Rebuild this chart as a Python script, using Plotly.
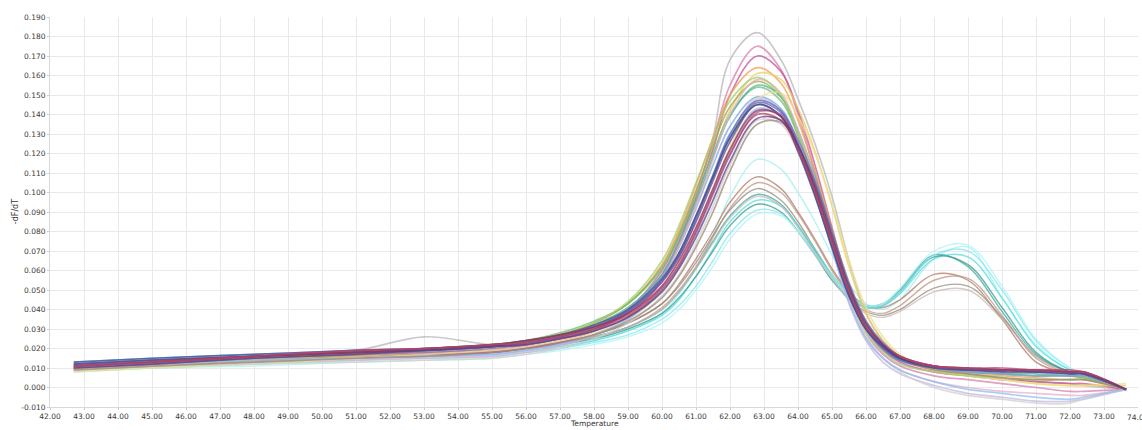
import plotly.graph_objects as go

# Temperature sampling points (deg C) shared by every well
temperature = [42.7, 45, 48, 51, 53, 55, 56, 57, 58, 59, 60, 60.5, 61, 61.5, 62,
               62.8, 63.5, 64, 64.5, 65, 65.5, 66, 66.5, 67, 68, 69, 70, 71, 72, 72.4, 73.65]

# Wells with a single melt peak near 62.8 C
single_peak_wells = [
    [0.012, 0.014, 0.016, 0.019, 0.026, 0.022, 0.023, 0.026, 0.031, 0.040, 0.060, 0.077, 0.098, 0.128, 0.168, 0.182, 0.168, 0.148, 0.125, 0.098, 0.065, 0.038, 0.024, 0.016, 0.010, 0.007, 0.005, 0.003, 0.002, 0.001, -0.001],
    [0.011, 0.013, 0.015, 0.017, 0.018, 0.019, 0.021, 0.024, 0.030, 0.040, 0.060, 0.078, 0.100, 0.126, 0.155, 0.175, 0.163, 0.140, 0.110, 0.078, 0.048, 0.028, 0.017, 0.011, 0.006, 0.004, 0.002, 0.000, -0.002, -0.002, -0.001],
    [0.010, 0.012, 0.014, 0.016, 0.017, 0.018, 0.020, 0.023, 0.029, 0.039, 0.058, 0.075, 0.097, 0.122, 0.150, 0.170, 0.162, 0.142, 0.114, 0.082, 0.051, 0.030, 0.019, 0.013, 0.008, 0.006, 0.004, 0.003, 0.002, 0.002, -0.001],
    [0.009, 0.011, 0.014, 0.017, 0.019, 0.021, 0.023, 0.027, 0.033, 0.043, 0.063, 0.081, 0.104, 0.128, 0.150, 0.164, 0.156, 0.137, 0.111, 0.081, 0.052, 0.031, 0.020, 0.014, 0.009, 0.007, 0.006, 0.005, 0.004, 0.004, -0.001],
    [0.009, 0.011, 0.013, 0.016, 0.018, 0.020, 0.022, 0.025, 0.030, 0.039, 0.057, 0.073, 0.094, 0.118, 0.142, 0.161, 0.158, 0.143, 0.121, 0.093, 0.062, 0.038, 0.024, 0.016, 0.009, 0.006, 0.004, 0.002, 0.001, 0.001, 0.001],
    [0.010, 0.012, 0.015, 0.018, 0.019, 0.021, 0.023, 0.027, 0.033, 0.043, 0.062, 0.079, 0.101, 0.124, 0.144, 0.157, 0.149, 0.130, 0.105, 0.077, 0.049, 0.030, 0.020, 0.014, 0.010, 0.008, 0.007, 0.006, 0.006, 0.005, -0.001],
    [0.011, 0.013, 0.016, 0.018, 0.020, 0.022, 0.024, 0.028, 0.034, 0.043, 0.061, 0.077, 0.098, 0.120, 0.140, 0.154, 0.147, 0.129, 0.105, 0.078, 0.050, 0.031, 0.021, 0.015, 0.010, 0.008, 0.007, 0.006, 0.006, 0.005, -0.001],
    [0.012, 0.014, 0.016, 0.018, 0.019, 0.021, 0.023, 0.026, 0.032, 0.041, 0.058, 0.074, 0.095, 0.118, 0.139, 0.155, 0.149, 0.132, 0.108, 0.080, 0.052, 0.032, 0.021, 0.015, 0.010, 0.008, 0.007, 0.007, 0.006, 0.006, -0.001],
    [0.013, 0.015, 0.017, 0.019, 0.020, 0.021, 0.023, 0.026, 0.031, 0.040, 0.057, 0.072, 0.092, 0.114, 0.134, 0.149, 0.143, 0.126, 0.103, 0.076, 0.049, 0.030, 0.020, 0.014, 0.010, 0.008, 0.007, 0.006, 0.006, 0.006, -0.001],
    [0.010, 0.012, 0.013, 0.015, 0.016, 0.017, 0.019, 0.022, 0.027, 0.035, 0.052, 0.066, 0.086, 0.108, 0.129, 0.148, 0.142, 0.123, 0.099, 0.071, 0.043, 0.024, 0.013, 0.007, 0.001, -0.003, -0.005, -0.007, -0.007, -0.006, -0.001],
    [0.010, 0.011, 0.013, 0.014, 0.015, 0.016, 0.018, 0.021, 0.027, 0.036, 0.055, 0.072, 0.093, 0.117, 0.140, 0.158, 0.151, 0.132, 0.106, 0.076, 0.046, 0.026, 0.015, 0.009, 0.003, 0.000, -0.002, -0.003, -0.004, -0.004, -0.001],
    [0.008, 0.010, 0.012, 0.015, 0.017, 0.019, 0.021, 0.024, 0.028, 0.035, 0.049, 0.062, 0.080, 0.101, 0.123, 0.148, 0.151, 0.139, 0.120, 0.094, 0.065, 0.041, 0.026, 0.017, 0.009, 0.006, 0.004, 0.002, 0.001, 0.001, 0.002],
    [0.010, 0.012, 0.014, 0.017, 0.019, 0.021, 0.023, 0.027, 0.033, 0.044, 0.065, 0.083, 0.105, 0.127, 0.147, 0.159, 0.150, 0.130, 0.104, 0.075, 0.047, 0.028, 0.018, 0.012, 0.008, 0.006, 0.005, 0.004, 0.004, 0.004, -0.001],
    [0.009, 0.011, 0.012, 0.013, 0.014, 0.015, 0.017, 0.020, 0.025, 0.033, 0.047, 0.058, 0.074, 0.093, 0.114, 0.137, 0.135, 0.121, 0.100, 0.074, 0.047, 0.027, 0.015, 0.008, 0.000, -0.004, -0.006, -0.008, -0.008, -0.006, -0.001],
    [0.011, 0.012, 0.014, 0.015, 0.016, 0.017, 0.019, 0.022, 0.027, 0.035, 0.050, 0.063, 0.081, 0.101, 0.122, 0.143, 0.139, 0.122, 0.099, 0.071, 0.044, 0.025, 0.015, 0.009, 0.003, -0.001, -0.003, -0.005, -0.006, -0.005, -0.001],
    [0.009, 0.011, 0.013, 0.015, 0.016, 0.018, 0.020, 0.023, 0.027, 0.034, 0.046, 0.057, 0.072, 0.090, 0.111, 0.135, 0.136, 0.124, 0.105, 0.080, 0.054, 0.034, 0.022, 0.015, 0.009, 0.007, 0.005, 0.004, 0.004, 0.004, -0.001],
    [0.012, 0.014, 0.016, 0.018, 0.019, 0.021, 0.023, 0.026, 0.031, 0.039, 0.055, 0.069, 0.088, 0.109, 0.130, 0.147, 0.142, 0.125, 0.102, 0.075, 0.048, 0.030, 0.020, 0.014, 0.010, 0.009, 0.008, 0.008, 0.007, 0.007, -0.001],
    [0.011, 0.013, 0.016, 0.018, 0.019, 0.021, 0.023, 0.026, 0.031, 0.039, 0.055, 0.068, 0.087, 0.108, 0.128, 0.146, 0.141, 0.124, 0.101, 0.074, 0.048, 0.030, 0.021, 0.015, 0.011, 0.009, 0.009, 0.008, 0.008, 0.007, -0.001],
    [0.012, 0.014, 0.016, 0.018, 0.019, 0.021, 0.022, 0.025, 0.030, 0.038, 0.054, 0.067, 0.085, 0.106, 0.126, 0.145, 0.139, 0.122, 0.099, 0.072, 0.047, 0.030, 0.021, 0.015, 0.011, 0.009, 0.009, 0.008, 0.008, 0.007, -0.001],
    [0.013, 0.015, 0.017, 0.019, 0.020, 0.022, 0.024, 0.027, 0.032, 0.040, 0.056, 0.069, 0.088, 0.108, 0.128, 0.145, 0.139, 0.121, 0.098, 0.072, 0.047, 0.030, 0.021, 0.015, 0.011, 0.010, 0.009, 0.009, 0.008, 0.008, -0.001],
    [0.010, 0.012, 0.015, 0.017, 0.018, 0.020, 0.022, 0.025, 0.029, 0.036, 0.050, 0.062, 0.079, 0.099, 0.119, 0.141, 0.140, 0.127, 0.106, 0.080, 0.053, 0.034, 0.023, 0.016, 0.011, 0.009, 0.009, 0.008, 0.008, 0.007, -0.001],
    [0.011, 0.013, 0.016, 0.018, 0.020, 0.022, 0.024, 0.027, 0.031, 0.038, 0.052, 0.065, 0.082, 0.102, 0.122, 0.142, 0.139, 0.124, 0.102, 0.076, 0.050, 0.032, 0.022, 0.016, 0.011, 0.010, 0.009, 0.009, 0.008, 0.008, -0.001],
    [0.011, 0.013, 0.016, 0.019, 0.020, 0.022, 0.023, 0.026, 0.030, 0.037, 0.051, 0.063, 0.080, 0.100, 0.120, 0.140, 0.137, 0.122, 0.100, 0.074, 0.049, 0.031, 0.022, 0.016, 0.011, 0.010, 0.010, 0.009, 0.009, 0.008, -0.001],
    [0.010, 0.012, 0.015, 0.017, 0.019, 0.021, 0.022, 0.025, 0.029, 0.036, 0.049, 0.061, 0.077, 0.096, 0.116, 0.138, 0.137, 0.124, 0.104, 0.078, 0.052, 0.033, 0.022, 0.015, 0.010, 0.009, 0.008, 0.008, 0.007, 0.007, -0.001],
]
single_peak_colors = [
    "#b8b8b8", "#d77fb0", "#c8509a", "#f0a050", "#e8d060", "#a8a840",
    "#6fbf70", "#4fb0a0", "#7fa8e0", "#c8b8e0", "#e8b0c8", "#f0e090",
    "#a0d070", "#d0d0d0", "#90c0f0", "#a08878", "#4a6fc0", "#7a5aa8",
    "#5a4a90", "#405090", "#8a6ab8", "#a03050", "#c04060", "#604080",
]

# Wells with a second, later melt peak near 68.3 C
double_peak_wells = [
    [0.009, 0.010, 0.012, 0.014, 0.015, 0.016, 0.018, 0.020, 0.024, 0.029, 0.038, 0.048, 0.061, 0.078, 0.098, 0.117, 0.112, 0.100, 0.085, 0.068, 0.053, 0.043, 0.040, 0.045, 0.066, 0.072, 0.046, 0.022, 0.009, 0.007, -0.001],
    [0.010, 0.012, 0.014, 0.016, 0.017, 0.019, 0.021, 0.023, 0.027, 0.033, 0.043, 0.053, 0.066, 0.080, 0.095, 0.108, 0.102, 0.090, 0.076, 0.061, 0.049, 0.042, 0.041, 0.045, 0.058, 0.055, 0.035, 0.013, 0.007, 0.006, -0.001],
    [0.010, 0.012, 0.014, 0.016, 0.017, 0.018, 0.020, 0.022, 0.026, 0.031, 0.041, 0.050, 0.062, 0.077, 0.092, 0.105, 0.100, 0.089, 0.075, 0.060, 0.048, 0.040, 0.038, 0.042, 0.055, 0.056, 0.037, 0.015, 0.007, 0.006, -0.001],
    [0.011, 0.013, 0.015, 0.017, 0.018, 0.019, 0.021, 0.023, 0.027, 0.033, 0.043, 0.052, 0.064, 0.078, 0.091, 0.102, 0.096, 0.085, 0.071, 0.057, 0.045, 0.039, 0.037, 0.040, 0.051, 0.052, 0.036, 0.016, 0.008, 0.007, -0.001],
    [0.010, 0.012, 0.014, 0.016, 0.017, 0.018, 0.020, 0.022, 0.026, 0.031, 0.040, 0.049, 0.061, 0.075, 0.088, 0.099, 0.094, 0.083, 0.070, 0.057, 0.047, 0.042, 0.043, 0.050, 0.068, 0.062, 0.039, 0.017, 0.008, 0.007, -0.001],
    [0.009, 0.011, 0.013, 0.015, 0.016, 0.017, 0.019, 0.021, 0.024, 0.029, 0.037, 0.045, 0.057, 0.071, 0.085, 0.096, 0.093, 0.083, 0.071, 0.058, 0.048, 0.042, 0.042, 0.048, 0.066, 0.067, 0.046, 0.021, 0.009, 0.007, -0.001],
    [0.010, 0.012, 0.014, 0.016, 0.017, 0.018, 0.020, 0.022, 0.025, 0.030, 0.038, 0.046, 0.057, 0.070, 0.083, 0.094, 0.090, 0.080, 0.068, 0.055, 0.046, 0.041, 0.042, 0.049, 0.067, 0.063, 0.041, 0.018, 0.008, 0.007, -0.001],
    [0.008, 0.010, 0.012, 0.014, 0.015, 0.016, 0.018, 0.020, 0.023, 0.027, 0.035, 0.042, 0.052, 0.065, 0.079, 0.091, 0.089, 0.080, 0.068, 0.056, 0.046, 0.041, 0.042, 0.049, 0.068, 0.070, 0.050, 0.024, 0.010, 0.007, -0.001],
    [0.008, 0.010, 0.011, 0.013, 0.014, 0.015, 0.017, 0.019, 0.022, 0.026, 0.033, 0.040, 0.050, 0.062, 0.076, 0.089, 0.088, 0.080, 0.069, 0.057, 0.047, 0.042, 0.043, 0.051, 0.070, 0.073, 0.052, 0.025, 0.010, 0.007, -0.001],
    [0.010, 0.012, 0.014, 0.016, 0.017, 0.018, 0.020, 0.022, 0.026, 0.031, 0.040, 0.049, 0.061, 0.074, 0.087, 0.098, 0.093, 0.082, 0.069, 0.056, 0.045, 0.038, 0.036, 0.039, 0.049, 0.050, 0.035, 0.016, 0.007, 0.006, -0.001],
]
double_peak_colors = [
    "#a0f0f0", "#b07a68", "#c09880", "#9a8a80", "#40a8a0",
    "#50e0e0", "#3a9a90", "#80e8f0", "#b0f4f4", "#c8b8b0",
]

x_ticks = list(range(42, 74))
y_ticks = [round(-0.01 + 0.01 * i, 3) for i in range(21)]
last_x_tick = 74

fig = go.Figure()

for values, color in zip(double_peak_wells, double_peak_colors):
    fig.add_trace(go.Scatter(
        x=temperature, y=values, mode="lines",
        line=dict(color=color, width=1.4, shape="spline", smoothing=1.0),
        opacity=0.75, hoverinfo="skip", showlegend=False,
    ))

for values, color in zip(single_peak_wells, single_peak_colors):
    fig.add_trace(go.Scatter(
        x=temperature, y=values, mode="lines",
        line=dict(color=color, width=1.7, shape="spline", smoothing=1.0),
        opacity=0.75, hoverinfo="skip", showlegend=False,
    ))

tick_font = dict(family="DejaVu Sans, Verdana, sans-serif", size=7.5, color="#3a3a3a")

fig.update_layout(
    width=1142, height=430,
    margin=dict(l=50, r=4, t=17, b=23),
    paper_bgcolor="white", plot_bgcolor="white",
    xaxis=dict(
        range=[42, 74], tickvals=x_ticks, ticktext=[f"{v:.2f}" for v in x_ticks],
        showgrid=True, gridcolor="#e8e8ee", gridwidth=1, zeroline=False,
        showline=True, linecolor="#d8d8d8", ticks="outside", ticklen=2,
        tickcolor="#cccccc", tickfont=tick_font,
    ),
    yaxis=dict(
        range=[-0.01, 0.19], tickvals=y_ticks, ticktext=[f"{v:.3f}" for v in y_ticks],
        showgrid=True, gridcolor="#e8e8ee", gridwidth=1, zeroline=False,
        showline=True, linecolor="#d8d8d8", ticks="outside", ticklen=2,
        tickcolor="#cccccc", tickfont=tick_font,
    ),
    annotations=[
        # last x tick label sits on the right edge of the page
        dict(text=f"{last_x_tick:.2f}", xref="x", yref="paper", x=last_x_tick, y=0,
             yshift=-4, showarrow=False, xanchor="center", yanchor="top",
             font=tick_font),
        dict(text="-dF/dT", xref="paper", yref="paper", x=-0.032, y=0.5,
             textangle=-90, showarrow=False, xanchor="center", yanchor="middle",
             font=dict(family="DejaVu Sans, Verdana, sans-serif", size=8, color="#333333")),
        dict(text="Temperature", xref="paper", yref="paper", x=0.5, y=-0.058,
             showarrow=False, xanchor="center", yanchor="bottom",
             font=dict(family="DejaVu Sans, Verdana, sans-serif", size=7.5, color="#333333")),
    ],
)

fig.write_html("out.html")
